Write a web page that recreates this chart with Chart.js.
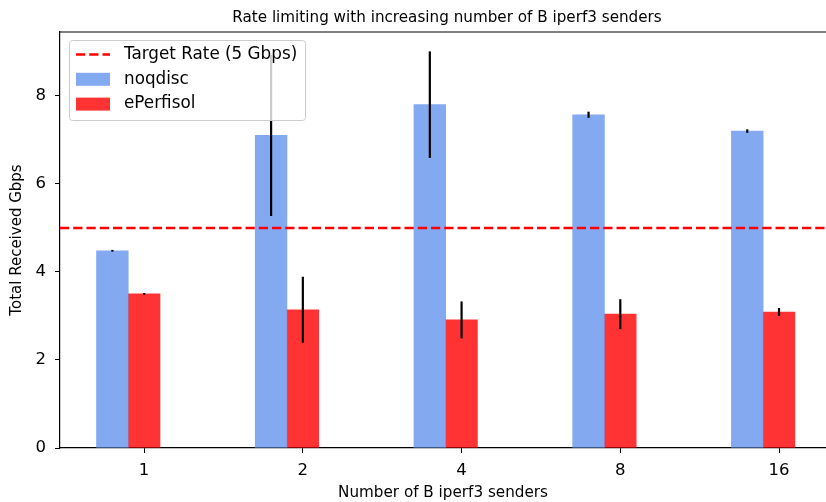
<!DOCTYPE html>
<html>
<head>
<meta charset="utf-8">
<script src="https://cdn.jsdelivr.net/npm/chart.js@4.4.0/dist/chart.umd.min.js"></script>
<style>
  html, body { margin: 0; padding: 0; background: #fff; }
  canvas { display: block; }
</style>
</head>
<body>
<canvas id="rateChart" width="826" height="502"></canvas>
<script>
// data
const senders = ["1", "2", "4", "8", "16"];
const noqdiscRate = [4.48, 7.10, 7.80, 7.57, 7.20];
const noqdiscErr = [0.02, 1.83, 1.21, 0.07, 0.04];
const eperfisolRate = [3.50, 3.14, 2.91, 3.04, 3.09];
const eperfisolErr = [0.02, 0.75, 0.42, 0.34, 0.09];
const targetRate = 5;
const yTicks = [0, 2, 4, 6, 8];

const barWidth = 0.2;
const xMin = -0.53;
const xMax = 4.296;
const yMax = 9.45;
const font = "DejaVu Sans";

const errorBars = {
  id: "errorBars",
  afterDatasetsDraw(chart) {
    const { ctx } = chart;
    const y = chart.scales.y;
    ctx.save();
    ctx.strokeStyle = "#000";
    ctx.lineWidth = 2.2;
    chart.data.datasets.forEach((ds, i) => {
      if (!ds.errors) return;
      chart.getDatasetMeta(i).data.forEach((bar, j) => {
        const v = ds.data[j].y;
        ctx.beginPath();
        ctx.moveTo(bar.x, y.getPixelForValue(v - ds.errors[j]));
        ctx.lineTo(bar.x, y.getPixelForValue(v + ds.errors[j]));
        ctx.stroke();
      });
    });
    ctx.restore();
  }
};

const frameAndLegend = {
  id: "frameAndLegend",
  afterDraw(chart) {
    const { ctx, chartArea: area } = chart;
    ctx.save();

    // top spine
    ctx.strokeStyle = "#000";
    ctx.lineWidth = 1.2;
    ctx.beginPath();
    ctx.moveTo(area.left, area.top);
    ctx.lineTo(area.right, area.top);
    ctx.stroke();

    // title, centred on the (cropped) axes
    ctx.fillStyle = "#000";
    ctx.font = `15.2px '${font}'`;
    ctx.textAlign = "center";
    ctx.textBaseline = "alphabetic";
    ctx.fillText("Rate limiting with increasing number of B iperf3 senders",
      (area.left + area.right) / 2 + 4, 22);

    // legend box
    const bx = 69.5, by = 40.5, bw = 236, bh = 80;
    ctx.fillStyle = "rgba(255,255,255,0.8)";
    ctx.strokeStyle = "#cccccc";
    ctx.lineWidth = 1;
    ctx.beginPath();
    ctx.roundRect(bx, by, bw, bh, 3);
    ctx.fill();
    ctx.stroke();

    ctx.font = `16.8px '${font}'`;
    ctx.textAlign = "left";
    ctx.textBaseline = "middle";
    chart.data.datasets.forEach((ds, i) => {
      const cy = 54.5 + i * 24.8;
      if (ds.type === "line") {
        ctx.strokeStyle = ds.borderColor;
        ctx.lineWidth = ds.borderWidth;
        ctx.setLineDash(ds.borderDash);
        ctx.beginPath();
        ctx.moveTo(76, cy);
        ctx.lineTo(110, cy);
        ctx.stroke();
        ctx.setLineDash([]);
      } else {
        ctx.fillStyle = ds.backgroundColor;
        ctx.fillRect(76, cy - 6.5, 34, 13);
      }
      ctx.fillStyle = "#000";
      ctx.fillText(ds.label, 124, cy);
    });
    ctx.restore();
  }
};

new Chart(document.getElementById("rateChart"), {
  type: "bar",
  data: {
    datasets: [
      {
        type: "line",
        label: "Target Rate (5 Gbps)",
        data: [{ x: xMin, y: targetRate }, { x: xMax, y: targetRate }],
        borderColor: "#ff0000",
        borderWidth: 2.5,
        borderDash: [9.25, 4],
        pointRadius: 0,
        fill: false
      },
      {
        label: "noqdisc",
        data: senders.map((s, i) => ({ x: i - barWidth, y: noqdiscRate[i] })),
        errors: noqdiscErr,
        backgroundColor: "rgba(100,149,237,0.8)",
        grouped: false,
        categoryPercentage: 1,
        barPercentage: 1
      },
      {
        label: "ePerfisol",
        data: senders.map((s, i) => ({ x: i, y: eperfisolRate[i] })),
        errors: eperfisolErr,
        backgroundColor: "rgba(255,0,0,0.8)",
        grouped: false,
        categoryPercentage: 1,
        barPercentage: 1
      }
    ]
  },
  options: {
    responsive: false,
    animation: false,
    layout: { padding: { top: 32, right: 0, left: 0, bottom: 0 } },
    plugins: {
      legend: { display: false },
      title: { display: false },
      tooltip: { enabled: false }
    },
    scales: {
      x: {
        type: "linear",
        offset: false,
        min: xMin,
        max: xMax,
        afterBuildTicks: scale => {
          scale.ticks = senders.map((s, i) => ({ value: i }));
        },
        afterFit: scale => { scale.height = 54; },
        ticks: {
          callback: v => senders[v],
          font: { family: font, size: 16.5 },
          color: "#000",
          padding: 8,
          maxRotation: 0
        },
        grid: {
          offset: false,
          drawOnChartArea: false,
          drawTicks: true,
          tickLength: 5,
          tickColor: "#000"
        },
        border: { display: true, color: "#000", width: 1.2 },
        title: {
          display: true,
          text: "Number of B iperf3 senders",
          font: { family: font, size: 15.2 },
          color: "#000",
          padding: { top: 0, bottom: 0 }
        }
      },
      y: {
        min: 0,
        max: yMax,
        afterBuildTicks: scale => {
          scale.ticks = yTicks.map(v => ({ value: v }));
        },
        afterFit: scale => { scale.width = 60; },
        ticks: {
          font: { family: font, size: 16.5 },
          color: "#000",
          padding: 9
        },
        grid: {
          drawOnChartArea: false,
          drawTicks: true,
          tickLength: 5,
          tickColor: "#000"
        },
        border: { display: true, color: "#000", width: 1.2 },
        title: {
          display: true,
          text: "Total Received Gbps",
          font: { family: font, size: 15 },
          color: "#000",
          padding: { top: 8.5, bottom: 0 }
        }
      }
    }
  },
  plugins: [errorBars, frameAndLegend]
});
</script>
</body>
</html>
